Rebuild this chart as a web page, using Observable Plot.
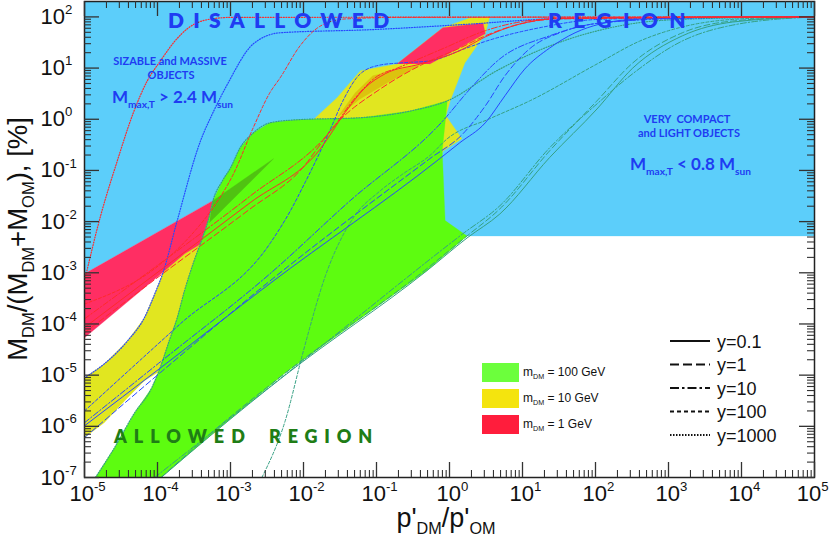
<!DOCTYPE html>
<html><head><meta charset="utf-8">
<script src="https://cdn.jsdelivr.net/npm/d3@7"></script>
<script src="https://cdn.jsdelivr.net/npm/@observablehq/plot@0.6"></script>
<style>
html,body{margin:0;padding:0;background:#fff;}
#chart svg{display:block;}
</style></head><body><div id="chart"></div>
<script>
// All points are [log10(p'DM/p'OM), log10(M_DM/(M_DM+M_OM) in %)].

// ---- shaded regions ----
const regionDisallowed = [[-5,2.4],[5,2.4],[5,-2.28],[0.24,-2.28],[-3.24,-1.59],[-5,-3.02]];
const region100GeV = [[-4.85,-7],[-4.59,-6.42],[-4.32,-5.75],[-4.08,-5.25],[-3.97,-4.88],[-3.84,-4.33],[-3.73,-3.88],[-3.63,-3.35],[-3.50,-2.77],[-3.40,-2.38],[-3.30,-1.95],[-3.24,-1.59],[-3.11,-1.20],[-3.00,-0.95],[-2.87,-0.56],[-2.69,-0.27],[-2.46,-0.07],[-2.09,-0.01],[-1.22,0.03],[-0.54,0.16],[-0.03,0.36],[-0.05,0.07],[-0.10,-0.62],[-0.06,-1.98],[0.24,-2.28],[-0.31,-2.96],[-2.26,-4.97],[-3.24,-6.14],[-3.95,-7]];
const region10GeV = [[-5,-5.05],[-4.73,-4.78],[-4.41,-4.33],[-4.18,-3.88],[-4.02,-3.35],[-3.93,-3.02],[-3.62,-2.18],[-3.34,-1.83],[-2.05,-0.13],[-1.88,-0.03],[-1.54,0.42],[-1.22,0.95],[-0.72,1.08],[-0.09,1.79],[0.28,1.98],[0.55,2.0],[0.49,1.67],[0.21,1.10],[0.01,0.36],[-0.05,0.07],[0.17,-0.38],[-0.09,-0.62],[-0.68,-2.57],[-3.41,-4.13],[-3.82,-4.82],[-4.02,-4.97],[-4.18,-5.11],[-4.41,-5.44],[-4.73,-5.93],[-5,-6.22]];
const region1GeVLow = [[-5,-3.02],[-3.24,-1.59],[-3.07,-1.59],[-3.34,-2.38],[-3.63,-2.63],[-3.95,-3.02],[-5,-4.27]];
const region1GeVHigh = [[-0.72,1.08],[-0.09,1.79],[0.46,1.88],[0.49,1.67],[-0.27,1.08]];
const overlapGreenRed = [[-3.24,-1.59],[-2.41,-0.77],[-3.29,-2.02]];
const overlapYellowRed = [[-1.54,0.03],[-1.29,0.52],[-1.05,0.85],[-0.77,0.95],[-0.40,1.06],[-0.81,0.75],[-1.22,0.40]];

// ---- curves: m_DM = 1 GeV ----
const red_y1000 = [[-5,-3.16],[-4.78,-1.89],[-4.55,-0.81],[-4.33,0.13],[-4.14,0.75],[-3.96,1.14],[-3.76,1.53],[-3.59,1.77],[-3.34,1.94],[-3.0,1.99],[5,2]];
const red_y100 = [[-5,-3.61],[-3.95,-2.82],[-3.55,-2.28],[-3.24,-1.73],[-2.96,-1.07],[-2.69,-0.17],[-2.46,0.52],[-2.32,0.81],[-2.05,1.43],[-1.77,1.82],[-1.43,1.96],[-0.68,1.99],[5,2]];
const red_y10 = [[-5,-3.90],[-4.10,-2.96],[-2.73,-1.50],[-1.63,-0.23],[-1.29,0.42],[-1.02,0.81],[-0.68,1.02],[-0.09,1.38],[0.49,1.73],[0.96,1.90],[1.65,1.98],[5,2]];
const red_y1 = [[-5,-4.17],[-4.10,-3.20],[-2.73,-1.75],[-2.05,-1.01],[-1.54,-0.07],[-0.95,0.59],[-0.36,1.08],[0.14,1.39],[0.49,1.63],[0.96,1.86],[1.51,1.96],[5,2]];
const red_y01 = [[-5,-4.07],[-4.10,-3.10],[-2.73,-1.63],[-1.77,-0.58],[-1.43,0.13],[-1.16,0.61],[-0.88,0.89],[-0.40,1.08],[0.14,1.34],[0.49,1.61],[0.96,1.86],[1.51,1.97],[5,2]];
// ---- curves: m_DM = 10 GeV ----
const blue_y1000 = [[-5,-5.05],[-4.73,-4.78],[-4.41,-4.33],[-4.18,-3.88],[-4.02,-3.35],[-3.93,-3.02],[-3.73,-1.98],[-3.41,-0.42],[-3.24,0.13],[-3.04,0.69],[-2.69,1.47],[-2.32,1.69],[-1.09,1.75],[0.28,1.86],[1.37,1.96],[2.74,1.99],[5,2]];
const blue_y100 = [[-5,-5.70],[-3.69,-4.00],[-2.46,-2.43],[-2.18,-1.79],[-1.98,-1.24],[-1.81,-0.75],[-1.63,-0.19],[-1.46,0.36],[-1.22,0.89],[-0.95,1.06],[-0.68,1.10],[-0.27,1.14],[0.21,1.38],[0.51,1.53],[1.24,1.79],[2.02,1.95],[3.43,1.99],[5,2]];
const blue_y10 = [[-5,-5.93],[-3.96,-4.74],[-2.46,-3.02],[-1.36,-1.59],[-0.09,-0.03],[0.28,0.59],[0.69,1.18],[1.37,1.63],[2.06,1.88],[3.43,1.98],[5,2]];
const blue_y1 = [[-5,-6.22],[-3.96,-4.95],[-2.46,-3.16],[-0.27,-0.77],[0.18,-0.29],[0.49,0.26],[0.76,0.85],[1.10,1.38],[1.55,1.71],[2.06,1.88],[3.43,1.99],[5,2]];
const blue_y01 = [[-5,-5.99],[-3.96,-4.86],[-2.46,-3.21],[-0.17,-0.81],[0.14,-0.46],[0.49,-0.07],[0.76,0.46],[1.03,0.98],[1.37,1.39],[1.72,1.69],[2.06,1.86],[2.61,1.96],[3.43,1.99],[5,2]];
// ---- curves: m_DM = 100 GeV ----
const teal_y1000 = [[-4.85,-7],[-4.59,-6.42],[-4.32,-5.75],[-4.08,-5.25],[-3.97,-4.88],[-3.84,-4.33],[-3.73,-3.88],[-3.63,-3.35],[-3.50,-2.77],[-3.40,-2.38],[-3.30,-1.95],[-3.24,-1.59],[-3.11,-1.20],[-3.00,-0.95],[-2.87,-0.56],[-2.69,-0.27],[-2.46,-0.07],[-2.09,-0.01],[-1.22,0.03],[-0.54,0.16],[-0.03,0.36],[0.65,0.95],[1.37,1.43],[2.47,1.86],[3.29,1.96],[5,2]];
const teal_y100 = [[-2.57,-7],[-2.25,-5.89],[-2.00,-4.52],[-1.70,-3.06],[-1.32,-1.93],[-0.95,-1.40],[-0.64,-1.07],[-0.27,-0.71],[-0.03,-0.38],[0.55,0.01],[1.10,0.36],[2.02,1.08],[2.61,1.53],[3.15,1.79],[3.97,1.96],[5,2]];
const teal_y10 = [[-4.04,-7],[-1.77,-4.45],[0.18,-2.24],[0.69,-1.69],[1.37,-0.56],[2.02,0.30],[2.51,0.89],[3.19,1.53],[3.88,1.84],[5,2]];
const teal_y1 = [[-3.95,-7],[-3.24,-6.10],[-2.26,-4.97],[-0.31,-2.92],[0.24,-2.28],[0.69,-1.75],[1.37,-0.62],[2.02,0.36],[2.51,1.10],[3.19,1.69],[3.88,1.92],[5,2]];
const teal_y01 = [[-3.95,-7],[-3.24,-6.14],[-2.26,-5.01],[-0.31,-2.96],[0.24,-2.32],[0.69,-1.85],[1.37,-0.75],[2.02,0.20],[2.51,1.00],[3.19,1.63],[3.88,1.90],[5,2]];

// ---- ticks and legend labels ----
const xMajor = [1e-5,1e-4,1e-3,1e-2,1e-1,1,10,100,1000,1e4,1e5];
const yMajor = [1e-7,1e-6,1e-5,1e-4,1e-3,1e-2,1e-1,1,10,100];
const yParams = ["0.1","1","10","100","1000"];
const massLabels = ["m_{DM} = 100 GeV","m_{DM} = 10 GeV","m_{DM} = 1 GeV"];

// ---------------- build ----------------
const pts = a => a.map(([lx, ly]) => ({x: 10 ** lx, y: 10 ** ly}));
const W = 830, H = 544, mL = 84, mR = 16, mT = 1, mB = 67;
const iw = W - mL - mR, ih = H - mT - mB;
const xDom = [1e-5, 1e5], yDom = [1e-7, 200];
const minors = (majors, dom) => majors.flatMap(m => [2,3,4,5,6,7,8,9].map(k => k * m)).filter(v => v > dom[0] && v < dom[1]);
const xMinor = minors(xMajor, xDom), yMinor = minors(yMajor, yDom);

const regions = [
  [regionDisallowed, "#5ccefa"],
  [region10GeV, "#e1e620"],
  [region1GeVLow, "#ff2e63"],
  [region1GeVHigh, "#ff2e63"],
  [region100GeV, "#5dfc10"],
  [overlapGreenRed, "#50c212"],
  [overlapYellowRed, "#dcc30e"]
];
const massColor = {"100": "#35a083", "10": "#2747ff", "1": "#ff2a2a"};
const dashes = {"0.1": null, "1": "6,3", "10": "6,2,1.5,2", "100": "3,2", "1000": "1,1.6"};
const curves = [
  ["100","0.1",teal_y01],["100","1",teal_y1],["100","10",teal_y10],["100","100",teal_y100],["100","1000",teal_y1000],
  ["10","0.1",blue_y01],["10","1",blue_y1],["10","10",blue_y10],["10","100",blue_y100],["10","1000",blue_y1000],
  ["1","0.1",red_y01],["1","1",red_y1],["1","10",red_y10],["1","100",red_y100],["1","1000",red_y1000]
];
const tickStroke = "#333";
const expLabel = d => `10^{${Math.round(Math.log10(d))}}`;

const chart = Plot.plot({
  width: W, height: H,
  marginLeft: mL, marginRight: mR, marginTop: mT, marginBottom: mB,
  x: {type: "log", domain: xDom, axis: null},
  y: {type: "log", domain: yDom, axis: null},
  style: {fontFamily: "'Liberation Sans', Arial, sans-serif", background: "white"},
  marks: [
    ...regions.map(([a, f]) => Plot.line(pts(a), {x: "x", y: "y", fill: f, stroke: f, strokeWidth: 0.3, clip: true})),
    ...curves.map(([m, yv, a]) => Plot.line(pts(a), Object.assign(
      {x: "x", y: "y", stroke: massColor[m], strokeWidth: yv === "1000" ? 1.2 : 1, curve: "monotone-x", clip: true},
      dashes[yv] ? {strokeDasharray: dashes[yv]} : {}))),
    Plot.frame({stroke: "#222", strokeWidth: 1.5}),
    Plot.tickX(xMajor, {x: d => d, insetTop: ih - 15, stroke: tickStroke, strokeWidth: 1.3}),
    Plot.tickX(xMajor, {x: d => d, insetBottom: ih - 15, stroke: tickStroke, strokeWidth: 1.3}),
    Plot.tickX(xMinor, {x: d => d, insetTop: ih - 7, stroke: tickStroke, strokeWidth: 1.1}),
    Plot.tickX(xMinor, {x: d => d, insetBottom: ih - 7, stroke: tickStroke, strokeWidth: 1.1}),
    Plot.tickY(yMajor, {y: d => d, insetRight: iw - 15, stroke: tickStroke, strokeWidth: 1.3}),
    Plot.tickY(yMajor, {y: d => d, insetLeft: iw - 15, stroke: tickStroke, strokeWidth: 1.3}),
    Plot.tickY(yMinor, {y: d => d, insetRight: iw - 7, stroke: tickStroke, strokeWidth: 1.1}),
    Plot.tickY(yMinor, {y: d => d, insetLeft: iw - 7, stroke: tickStroke, strokeWidth: 1.1}),
    Plot.text(xMajor.slice(0, -1), {x: d => d, frameAnchor: "bottom", dy: 23, dx: 3, text: expLabel, fontSize: 22, fill: "#111"}),
    Plot.text(xMajor.slice(-1), {x: d => d, frameAnchor: "bottom", dy: 23, textAnchor: "end", dx: 14, text: expLabel, fontSize: 22, fill: "#111"}),
    Plot.text(yMajor, {y: d => d, frameAnchor: "left", dx: -44, textAnchor: "start", text: expLabel, fontSize: 22, fill: "#111"})
  ]
});
document.getElementById("chart").appendChild(chart);

// ---------- annotations, titles and legend ----------
const svg = d3.select(chart);
const g = svg.append("g");
const blueTxt = "#1f3cf2", greenTxt = "#1f7d16";
const annFont = "Lato, 'Open Sans', sans-serif";
const axFont = "'Liberation Sans', Arial, sans-serif";
function label(x, y, str, o = {}) {
  const t = g.append("text").attr("x", x).attr("y", y).text(str)
    .attr("font-size", o.size || 12).attr("font-family", o.family || annFont)
    .attr("font-weight", o.weight || "normal").attr("fill", o.fill || "#000")
    .attr("text-anchor", o.anchor || "start").style("white-space", "pre");
  if (o.ls != null) t.attr("letter-spacing", o.ls);
  if (o.rotate) t.attr("transform", `rotate(${o.rotate},${x},${y})`);
  return t;
}
label(168, 28, "DISALLOWED", {size: 21, weight: 800, fill: blueTxt, ls: 9.3});
label(548, 28, "REGION", {size: 21, weight: 800, fill: blueTxt, ls: 11.4});
label(170, 65, "SIZABLE and MASSIVE", {size: 11, weight: 700, fill: blueTxt, anchor: "middle"});
label(171, 79, "OBJECTS", {size: 11, weight: 700, fill: blueTxt, anchor: "middle"});
label(112, 103, "M_{max,T} > 2.4 M_{sun}", {size: 17, weight: 700, fill: blueTxt});
label(687, 123, "VERY  COMPACT", {size: 11, weight: 700, fill: blueTxt, anchor: "middle"});
label(689, 137, "and LIGHT OBJECTS", {size: 11, weight: 700, fill: blueTxt, anchor: "middle"});
label(630, 170, "M_{max,T} < 0.8 M_{sun}", {size: 17, weight: 700, fill: blueTxt});
label(114, 443, "ALLOWED", {size: 18, weight: 800, fill: greenTxt, ls: 7});
label(269, 443, "REGION", {size: 18, weight: 800, fill: greenTxt, ls: 6.8});

// axis titles
label(27, 239, "M_{DM}/(M_{DM}+M_{OM}), [%]", {size: 27.5, family: axFont, anchor: "middle", rotate: -90, fill: "#111"});
label(446, 527, "p'_{DM}/p'_{OM}", {size: 27, family: axFont, anchor: "middle", fill: "#111"});

// mass legend
const swatch = ["#6cff3c", "#f4e40e", "#ff1d3c"];
massLabels.forEach((s, i) => {
  const y0 = 363 + i * 26;
  g.append("rect").attr("x", 482).attr("y", y0).attr("width", 37).attr("height", 19).attr("fill", swatch[i]);
  label(523, y0 + 13, s, {size: 12, family: axFont, fill: "#111"});
});
// line-style legend
const legDash = {"0.1": null, "1": "9,4", "10": "9,3,2.5,3", "100": "4,3", "1000": "1.5,1.5"};
yParams.forEach((p, i) => {
  const yy = 341 + i * 23.5;
  const l = g.append("line").attr("x1", 670).attr("x2", 710).attr("y1", yy).attr("y2", yy)
    .attr("stroke", "#111").attr("stroke-width", 2);
  if (legDash[p]) l.attr("stroke-dasharray", legDash[p]);
  label(717, yy + 6.5, "y=" + p, {size: 18, family: axFont, fill: "#111"});
});

// rich text: ^{...} superscript, _{...} subscript
function rich(root) {
  root.querySelectorAll("text").forEach(t => {
    const s = t.textContent;
    if (!/[\^_]\{/.test(s)) return;
    const fs = parseFloat(getComputedStyle(t).fontSize);
    while (t.firstChild) t.removeChild(t.firstChild);
    let shift = 0, last = 0, m;
    const add = (str, mode) => {
      if (!str) return;
      const ts = document.createElementNS("http://www.w3.org/2000/svg", "tspan");
      const target = mode === "^" ? -0.45 * fs : mode === "_" ? 0.27 * fs : 0;
      ts.setAttribute("dy", (target - shift).toFixed(2));
      shift = target;
      if (mode) ts.setAttribute("font-size", (0.6 * fs).toFixed(2));
      ts.textContent = str;
      t.appendChild(ts);
    };
    const re = /([\^_])\{([^}]*)\}/g;
    while ((m = re.exec(s))) { add(s.slice(last, m.index), null); add(m[2], m[1]); last = re.lastIndex; }
    add(s.slice(last), null);
  });
}
rich(chart);
</script></body></html>
